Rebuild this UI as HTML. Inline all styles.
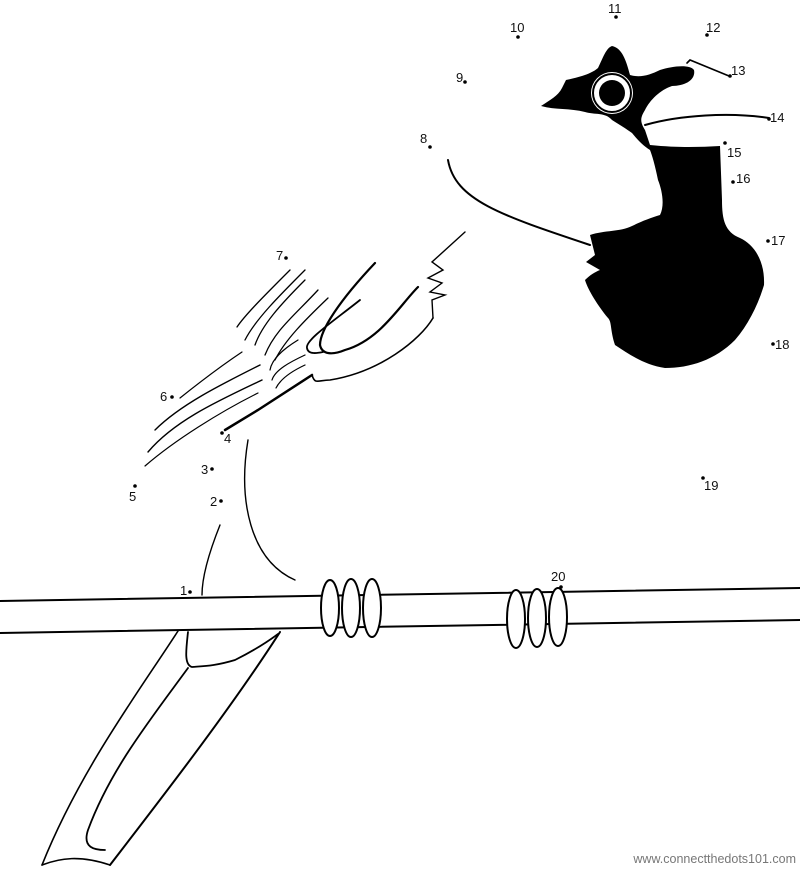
<!DOCTYPE html>
<html><head><meta charset="utf-8"><style>
html,body{margin:0;padding:0;background:#fff}
svg{display:block}
text{font-family:"Liberation Sans",sans-serif;font-size:13px;fill:#111}
</style></head><body>
<svg width="800" height="869" viewBox="0 0 800 869" xmlns="http://www.w3.org/2000/svg">
<g fill="none" stroke="#000" stroke-linecap="round">
<!-- perch -->
<path d="M0,601 L800,588" stroke-width="2"/>
<path d="M0,633 L800,620" stroke-width="2"/>
<!-- tail -->
<path d="M178,631 C140,690 80,770 42,865" stroke-width="1.6"/>
<path d="M188,668 C150,720 110,770 88,830 C82,848 95,850 105,850" stroke-width="1.8"/>
<path d="M280,632 C230,710 160,800 110,865" stroke-width="2"/>
<path d="M42,865 C60,858 80,855 110,865" stroke-width="1.6"/>
<path d="M188,632 C186,650 184,665 192,667 C205,666 215,666 235,660 C255,650 270,640 278,634" stroke-width="1.8"/>
<!-- legs/body -->
<path d="M220,525 C210,550 202,575 202,595" stroke-width="1.4"/>
<path d="M248,440 C238,500 250,560 295,580" stroke-width="1.4"/>
<!-- chest line -->
<path d="M448,160 C455,200 500,215 590,245" stroke-width="2"/>
<!-- wing -->
<path d="M312,375 L258,410 L225,430" stroke-width="2.5"/>
<path d="M312,375 C315,385 318,380 330,380 C380,372 420,340 433,318" stroke-width="1.6"/>
<path d="M433,318 L432,300 L445,295 L430,292 L442,283 L428,278 L443,270 L432,262 L465,232" stroke-width="1.4"/>
<path d="M375,263 C340,300 320,330 320,345 C322,355 333,355 345,350 C380,340 400,305 418,287" stroke-width="2.2"/>
<path d="M360,300 C335,320 305,340 307,348 C308,355 318,353 323,352" stroke-width="1.8"/>
<path d="M290,270 C265,295 245,315 237,327" stroke-width="1.3"/>
<path d="M305,270 C280,295 255,320 245,340" stroke-width="1.3"/>
<path d="M305,280 C280,305 262,325 255,345" stroke-width="1.3"/>
<path d="M318,290 C295,315 275,330 265,355" stroke-width="1.3"/>
<path d="M328,298 C305,320 285,340 275,360" stroke-width="1.3"/>
<path d="M298,340 C285,348 272,358 270,370 M305,355 C290,362 275,370 272,380 M305,365 C290,372 280,380 276,388" stroke-width="1.2"/>
<path d="M242,352 C215,370 190,390 180,398" stroke-width="1.2"/>
<path d="M260,365 C220,385 180,405 155,430" stroke-width="1.4"/>
<path d="M262,380 C220,400 175,420 148,452" stroke-width="1.4"/>
<path d="M258,393 C220,412 175,440 145,466" stroke-width="1.2"/>
<!-- beak lines -->
<path d="M687,63 L690,60 L729,76" stroke-width="1.6"/>
<path d="M645,125 C680,115 730,112 769,118" stroke-width="2"/>
</g>
<!-- head -->
<path fill="#000" d="M541,106 C550,100 558,96 562,88 L566,80 C575,78 590,75 598,68 C603,58 606,48 612,46 C622,48 626,60 630,75 C640,78 650,75 660,70 C672,66 690,64 694,70 C696,80 685,86 672,86 C660,90 650,100 645,110 C640,118 640,122 645,130 L650,145 C680,148 700,147 720,146 L722,200 C722,220 725,232 740,238 C755,245 765,262 764,285 C758,305 748,325 735,340 C715,360 690,368 665,368 C645,365 630,355 615,345 C610,330 612,322 608,318 C598,306 588,290 585,280 C590,275 595,272 600,270 L586,262 L595,255 L590,235 C605,230 620,232 632,226 C640,222 650,218 660,215 C665,205 662,190 658,180 C655,165 652,155 650,150 C642,145 636,138 632,133 C625,128 620,125 612,120 C605,112 595,115 585,112 C570,108 555,110 541,106 Z"/>
<circle cx="612" cy="93" r="21" fill="#fff"/>
<circle cx="612" cy="93" r="13" fill="#000"/>
<circle cx="612" cy="93" r="19" fill="none" stroke="#000" stroke-width="2"/>
<!-- rings -->
<g fill="#fff" stroke="#000" stroke-width="2">
<ellipse cx="330" cy="608" rx="9" ry="28"/>
<ellipse cx="351" cy="608" rx="9" ry="29"/>
<ellipse cx="372" cy="608" rx="9" ry="29"/>
<ellipse cx="516" cy="619" rx="9" ry="29"/>
<ellipse cx="537" cy="618" rx="9" ry="29"/>
<ellipse cx="558" cy="617" rx="9" ry="29"/>
</g>
<!-- dots -->
<g fill="#000">
<circle cx="190" cy="592" r="1.8"/><circle cx="221" cy="501" r="1.8"/><circle cx="212" cy="469" r="1.8"/>
<circle cx="222" cy="433" r="1.8"/><circle cx="135" cy="486" r="1.8"/><circle cx="172" cy="397" r="1.8"/>
<circle cx="286" cy="258" r="1.8"/><circle cx="430" cy="147" r="1.8"/><circle cx="465" cy="82" r="1.8"/>
<circle cx="518" cy="37" r="1.8"/><circle cx="616" cy="17" r="1.8"/><circle cx="707" cy="35" r="1.8"/>
<circle cx="730" cy="76" r="1.8"/><circle cx="769" cy="119" r="1.8"/><circle cx="725" cy="143" r="1.8"/>
<circle cx="733" cy="182" r="1.8"/><circle cx="768" cy="241" r="1.8"/><circle cx="773" cy="344" r="1.8"/>
<circle cx="703" cy="478" r="1.8"/><circle cx="561" cy="587" r="1.8"/>
</g>
<g>
<text x="180" y="595">1</text><text x="210" y="506">2</text><text x="201" y="474">3</text>
<text x="224" y="443">4</text><text x="129" y="501">5</text><text x="160" y="401">6</text>
<text x="276" y="260">7</text><text x="420" y="143">8</text><text x="456" y="82">9</text>
<text x="510" y="32">10</text><text x="608" y="13">11</text><text x="706" y="32">12</text>
<text x="731" y="75">13</text><text x="770" y="122">14</text><text x="727" y="157">15</text>
<text x="736" y="183">16</text><text x="771" y="245">17</text><text x="775" y="349">18</text>
<text x="704" y="490">19</text><text x="551" y="581">20</text>
</g>
<text x="796" y="863" text-anchor="end" style="font-size:12.5px;fill:#777">www.connectthedots101.com</text>
</svg>
</body></html>
